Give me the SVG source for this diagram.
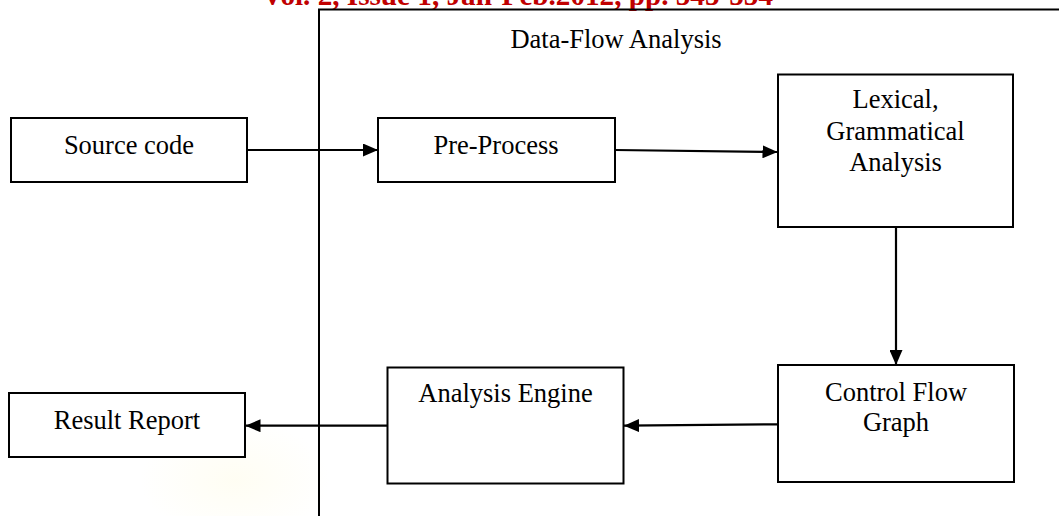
<svg xmlns="http://www.w3.org/2000/svg" width="1059" height="516" viewBox="0 0 1059 516">
  <defs>
    <style>
      .box { fill: #ffffff; stroke: #000000; stroke-width: 2; }
      .frame { fill: none; stroke: #000000; stroke-width: 2; }
      .lbl { font-family: "Liberation Serif", "Times New Roman", serif; font-size: 26.5px; fill: #000000; text-anchor: middle; }
      .hdr { font-family: "Liberation Serif", "Times New Roman", serif; font-size: 29px; font-weight: bold; fill: #c00000; }
      .edge { fill: none; stroke: #000000; stroke-width: 2.2; }
    </style>
    <marker id="arrow" viewBox="0 0 15 13" refX="15" refY="6.5" markerWidth="15" markerHeight="13" markerUnits="userSpaceOnUse" orient="auto">
      <path d="M0,0 L15,6.5 L0,13 Z" fill="#000000"/>
    </marker>
    <radialGradient id="wm" cx="0.5" cy="0.5" r="0.5">
      <stop offset="0" stop-color="#fffdf0" stop-opacity="0.8"/>
      <stop offset="1" stop-color="#fffdf0" stop-opacity="0"/>
    </radialGradient>
  </defs>

  <rect width="1059" height="516" fill="#ffffff"/>

  <!-- faint background emblem -->
  <ellipse cx="235" cy="480" rx="95" ry="60" fill="url(#wm)"/>

  <!-- journal header, cut at the top edge -->
  <text class="hdr" x="262" y="5" textLength="511" lengthAdjust="spacingAndGlyphs">Vol. 2, Issue 1, Jan-Feb.2012, pp. 545-554</text>

  <!-- data-flow analysis frame -->
  <g id="frame">
    <path class="frame" d="M319,520 L319,9.5 L1062,9.5"/>
    <text class="lbl" x="616" y="48">Data-Flow Analysis</text>
  </g>

  <g id="source-code">
    <rect class="box" x="11" y="118" width="236" height="64"/>
    <text class="lbl" x="129" y="154">Source code</text>
  </g>

  <g id="pre-process">
    <rect class="box" x="378" y="118" width="237" height="64"/>
    <text class="lbl" x="496" y="154">Pre-Process</text>
  </g>

  <g id="lexical-analysis">
    <rect class="box" x="778" y="74.5" width="235" height="152.5"/>
    <text class="lbl" x="895.5" y="108">Lexical,</text>
    <text class="lbl" x="895.5" y="139.5">Grammatical</text>
    <text class="lbl" x="895.5" y="171">Analysis</text>
  </g>

  <g id="control-flow-graph">
    <rect class="box" x="778" y="365" width="236" height="117"/>
    <text class="lbl" x="896" y="401">Control Flow</text>
    <text class="lbl" x="896" y="431">Graph</text>
  </g>

  <g id="analysis-engine">
    <rect class="box" x="387.5" y="367.5" width="236" height="116"/>
    <text class="lbl" x="505.5" y="402">Analysis Engine</text>
  </g>

  <g id="result-report">
    <rect class="box" x="9" y="393" width="236" height="64"/>
    <text class="lbl" x="127" y="429">Result Report</text>
  </g>

  <g id="connectors">
    <line class="edge" x1="247" y1="150" x2="378" y2="150" marker-end="url(#arrow)"/>
    <line class="edge" x1="615" y1="150" x2="777.5" y2="152" marker-end="url(#arrow)"/>
    <line class="edge" x1="896" y1="227" x2="896" y2="365" marker-end="url(#arrow)"/>
    <line class="edge" x1="778" y1="424.3" x2="624" y2="425.7" marker-end="url(#arrow)"/>
    <line class="edge" x1="387.5" y1="425.7" x2="245.5" y2="425.7" marker-end="url(#arrow)"/>
  </g>
</svg>
